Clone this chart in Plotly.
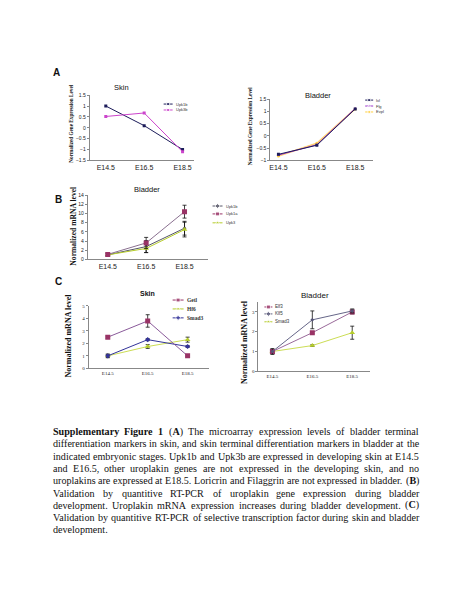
import re
import plotly.graph_objects as go

# page has the browser's default 8px body margin; draw in page pixel coordinates
OFF = 8
W, H = 450 - OFF, 600 - OFF
def X(p): return (p - OFF) / W
def Y(p): return 1 - (p - OFF) / H

# ---------------- data ----------------
stages = ["E14.5", "E16.5", "E18.5"]

# Panel A - skin (microarray)
a_skin_names = ["Upk1b", "Upk3b"]
a_skin_upk1b = [1.0, 0.1, -1.0]
a_skin_upk3b = [0.52, 0.68, -1.1]

# Panel A - bladder (microarray)
a_bl_names = ["Ivl", "Flg", "Evpl"]
a_bl_ivl = [-0.75, -0.38, 1.1]
a_bl_flg = [-0.78, -0.36, 1.12]
a_bl_evpl = [-0.82, -0.30, 1.10]

# Panel B - bladder RT-PCR
b_names = ["Upk1b", "Upk1a", "Upk3"]
b_upk1b = [1.0, 2.8, 6.8]
b_upk1b_err = [0.3, 1.3, 1.5]
b_upk1a = [1.1, 3.6, 10.4]
b_upk1a_err = [0.3, 1.2, 1.4]
b_upk3 = [1.0, 2.4, 6.5]
b_upk3_err = [0.2, 0.9, 1.6]

# Panel C - skin RT-PCR
c_skin_names = ["Getl", "Hf6", "Smad3"]
c_skin_getl = [2.5, 3.8, 1.0]
c_skin_getl_err = [0.08, 0.5, 0.08]
c_skin_hf6 = [1.0, 1.75, 2.3]
c_skin_hf6_err = [0.1, 0.15, 0.2]
c_skin_smad3 = [1.0, 2.3, 1.75]
c_skin_smad3_err = [0.15, 0.08, 0.08]

# Panel C - bladder RT-PCR
c_bl_names = ["Elf3", "Klf5", "Smad3"]
c_bl_elf3 = [1.0, 1.95, 3.0]
c_bl_elf3_err = [0.1, 0.05, 0.1]
c_bl_klf5 = [1.0, 2.6, 3.05]
c_bl_klf5_err = [0.15, 0.45, 0.1]
c_bl_smad3 = [1.0, 1.3, 1.95]
c_bl_smad3_err = [0.1, 0.04, 0.33]

caption_lines = [
    "<b>Supplementary</b> <b>Figure</b> <b>1</b> (<b>A</b>) The microarray expression levels of bladder terminal",
    "differentiation markers in skin, and skin terminal differentiation markers in bladder at the",
    "indicated embryonic stages. Upk1b and Upk3b are expressed in developing skin at E14.5",
    "and E16.5, other uroplakin genes are not expressed in the developing skin, and no",
    "uroplakins are expressed at E18.5. Loricrin and Filaggrin are not expressed in bladder. (<b>B</b>)",
    "Validation by quantitive RT-PCR of uroplakin gene expression during bladder",
    "development. Uroplakin mRNA expression increases during bladder development. (<b>C</b>)",
    "Validation by quantitive RT-PCR of selective transcription factor during skin and bladder",
    "development.",
]

# ---------------- styling ----------------
SANS = "Liberation Sans, Arial, sans-serif"
SERIF = "Liberation Serif, Times New Roman, serif"
NAVY = "#1c1c5a"
MAG = "#cc44cc"
PURP = "#9933cc"
YEL = "#ffd040"
GRAY = "#555566"
PLUM = "#993366"
LIME = "#b5cc2a"
BLUE = "#333399"

fig = go.Figure()

def add_series(xa, ya, y, name, color, symbol, msize, err=None, lcolor=None, lw=1):
    kw = {}
    if err is not None:
        kw["error_y"] = dict(type="data", array=err, visible=True, color="#111",
                             thickness=0.8, width=2)
    fig.add_trace(go.Scatter(
        x=stages, y=y, name=name, mode="lines+markers", xaxis=xa, yaxis=ya,
        line=dict(color=lcolor or color, width=lw),
        marker=dict(color=color, symbol=symbol, size=msize),
        showlegend=False, **kw))

# A skin
add_series("x", "y", a_skin_upk1b, a_skin_names[0], NAVY, "square", 3)
add_series("x", "y", a_skin_upk3b, a_skin_names[1], MAG, "square", 3)
# A bladder
add_series("x2", "y2", a_bl_evpl, a_bl_names[2], YEL, "circle", 3, lcolor="#ffcf70", lw=1.6)
add_series("x2", "y2", a_bl_flg, a_bl_names[1], PURP, "triangle-up", 3)
add_series("x2", "y2", a_bl_ivl, a_bl_names[0], NAVY, "square", 3)
# B
add_series("x3", "y3", b_upk1b, b_names[0], GRAY, "diamond", 3, b_upk1b_err)
add_series("x3", "y3", b_upk3, b_names[2], LIME, "triangle-up", 5, b_upk3_err)
add_series("x3", "y3", b_upk1a, b_names[1], PLUM, "square", 5, b_upk1a_err, lcolor="#8a7090")
# C skin
add_series("x4", "y4", c_skin_hf6, c_skin_names[1], LIME, "triangle-up", 5, c_skin_hf6_err, lcolor="#ccdd55")
add_series("x4", "y4", c_skin_smad3, c_skin_names[2], BLUE, "diamond", 4, c_skin_smad3_err)
add_series("x4", "y4", c_skin_getl, c_skin_names[0], PLUM, "square", 5, c_skin_getl_err, lcolor="#8a5a9a")
# C bladder
add_series("x5", "y5", c_bl_smad3, c_bl_names[2], LIME, "triangle-up", 5, c_bl_smad3_err, lcolor="#ccdd55")
add_series("x5", "y5", c_bl_elf3, c_bl_names[0], PLUM, "square", 5, c_bl_elf3_err, lcolor="#9a6a9a")
add_series("x5", "y5", c_bl_klf5, c_bl_names[1], "#555577", "diamond", 3, c_bl_klf5_err, lcolor="#666688")

# ---------------- axes ----------------
def xax(x0, x1, y_anchor, rng, fs, fam):
    return dict(domain=[X(x0), X(x1)], anchor=y_anchor, type="category", range=rng,
                showline=True, linecolor="#888", linewidth=1, ticks="",
                showgrid=False, zeroline=False, fixedrange=True,
                tickfont=dict(size=fs, family=fam, color="#222"))

def yax(ytop, ybot, x_anchor, rng, dtick, fs, fam):
    return dict(domain=[Y(ybot), Y(ytop)], anchor=x_anchor, range=rng, dtick=dtick,
                showline=True, linecolor="#888", linewidth=1, ticks="outside",
                ticklen=2, tickcolor="#888", showgrid=False, zeroline=False,
                fixedrange=True, tickfont=dict(size=fs, family=fam, color="#222"))

layout = dict(
    width=W, height=H, margin=dict(l=0, r=0, t=0, b=0),
    paper_bgcolor="white", plot_bgcolor="rgba(0,0,0,0)", showlegend=False,
    xaxis=xax(89, 193, "y", [-0.416, 2.287], 7, SANS),
    yaxis=yax(93, 159, "x", [-1.5, 1.5], 0.5, 5, SANS),
    xaxis2=xax(270, 373, "y2", [-0.209, 2.468], 7, SANS),
    yaxis2=yax(97, 159, "x2", [-1, 1.5], 0.5, 5, SANS),
    xaxis3=xax(87, 207, "y3", [-0.52, 2.60], 7, SANS),
    yaxis3=yax(194, 259, "x3", [0, 14], 2, 5, SANS),
    xaxis4=xax(88, 208, "y4", [-0.475, 2.525], 5, SERIF),
    yaxis4=yax(306, 369, "x4", [0, 5], 1, 5, SERIF),
    xaxis5=xax(258, 370, "y5", [-0.35, 2.45], 5, SERIF),
    yaxis5=yax(302, 372, "x5", [0, 3.5], 1, 5, SERIF),
    xaxis6=dict(domain=[0, 1], range=[OFF, OFF + W], visible=False, anchor="y6", fixedrange=True),
    yaxis6=dict(domain=[0, 1], range=[OFF + H, OFF], visible=False, anchor="x6", fixedrange=True),
)
fig.update_layout(**layout)

annotations = []
def ann(x, y, text, size, family=SANS, angle=0, xanchor="center", color="#111"):
    annotations.append(dict(x=X(x), y=Y(y), xref="paper", yref="paper", text=text,
                            showarrow=False, textangle=angle, xanchor=xanchor,
                            yanchor="middle", font=dict(size=size, family=family, color=color)))

# panel letters and titles
ann(56, 70, "<b>A</b>", 10)
ann(58, 198, "<b>B</b>", 10)
ann(58, 281, "<b>C</b>", 10)
ann(121, 85, "Skin", 7.5)
ann(318, 93, "Bladder", 7.5)
ann(146, 188, "Bladder", 7.5)
ann(147, 293, "<b>Skin</b>", 7)
ann(315, 295, "Bladder", 8)

# y-axis titles
ann(70, 122, "<b>Normalized Gene Expression Level</b>", 5.2, SERIF, -90)
ann(249, 124, "<b>Normalized Gene Expression Level</b>", 5.2, SERIF, -90)
ann(73, 225, "<b>Normalized mRNA level</b>", 7.6, SERIF, -90)
ann(68, 336, "<b>Normalized mRNA level</b>", 8, SERIF, -90)
ann(244, 342, "<b>Normalized mRNA level</b>", 8, SERIF, -90)

# ---------------- legends (drawn on a full-page overlay axis) ----------------
legend_specs = [
    (163, 172, [102, 108], a_skin_names, [NAVY, MAG], ["square", "square"], 3, 4, SANS),
    (365, 373, [98, 104, 110], a_bl_names, [NAVY, PURP, YEL], ["square", "triangle-up", "circle"], 3, 4, SANS),
    (212, 222, [205, 213, 222], b_names, [GRAY, PLUM, LIME], ["diamond", "square", "triangle-up"], 4, 4, SANS),
    (172, 183, [300, 309, 318], c_skin_names, [PLUM, LIME, BLUE], ["square", "triangle-up", "diamond"], 4, 5.5, SERIF),
    (264, 272, [307, 314, 322], c_bl_names, [PLUM, "#555577", LIME], ["square", "diamond", "triangle-up"], 4, 4.5, SANS),
]
for x0, x1, ys, names, colors, symbols, ms, fs, fam in legend_specs:
    for yy, nm, col, sym in zip(ys, names, colors, symbols):
        fig.add_trace(go.Scatter(
            x=[x0, (x0 + x1) / 2, x1], y=[yy, yy, yy], mode="lines+markers",
            xaxis="x6", yaxis="y6", showlegend=False, hoverinfo="skip",
            line=dict(color=col, width=1),
            marker=dict(color=col, symbol=sym, size=[0, ms, 0])))
        bold = "<b>%s</b>" % nm if fam == SERIF else nm
        ann(x1 + 1, yy, bold, fs, fam, xanchor="left", color="#333")

# ---------------- caption (justified) ----------------
REG = dict(zip("ABCDEFGHIJKLMNOPQRSTUVWXYZ",
               [722, 667, 667, 722, 611, 556, 722, 722, 333, 389, 722, 611, 889, 722, 722,
                556, 722, 667, 556, 611, 722, 722, 944, 722, 722, 611]))
REG.update(dict(zip("abcdefghijklmnopqrstuvwxyz",
                    [444, 500, 444, 500, 444, 333, 500, 500, 278, 278, 500, 278, 778, 500, 500,
                     500, 500, 333, 389, 278, 500, 500, 722, 500, 500, 444])))
REG.update({" ": 250, ".": 250, ",": 250, "(": 333, ")": 333, "-": 333})
REG.update({d: 500 for d in "0123456789"})
BOLD = dict(REG)
BOLD.update({"A": 722, "B": 667, "C": 722, "F": 611, "S": 556, "a": 500, "e": 444,
             "g": 500, "i": 278, "l": 278, "m": 833, "n": 556, "p": 556, "r": 444,
             "t": 333, "u": 556, "y": 500})

def text_w(s, size):
    w, bold = 0, False
    for part in re.split(r"(<b>|</b>)", s):
        if part == "<b>":
            bold = True
        elif part == "</b>":
            bold = False
        else:
            tbl = BOLD if bold else REG
            w += sum(tbl.get(ch, 500) for ch in part)
    return w / 1000.0 * size

CAP_FS = 10.1
CAP_X0, CAP_X1 = 51, 418
CAP_Y0, CAP_DY = 433, 12.4
for i, line in enumerate(caption_lines):
    words = line.split(" ")
    yy = CAP_Y0 + i * CAP_DY
    widths = [text_w(w, CAP_FS) for w in words]
    space = REG[" "] / 1000.0 * CAP_FS
    if i < len(caption_lines) - 1 and len(words) > 1:
        gap = (CAP_X1 - CAP_X0 - sum(widths)) / (len(words) - 1)
    else:
        gap = space
    xx = CAP_X0
    for w, wd in zip(words, widths):
        annotations.append(dict(x=X(xx), y=Y(yy), xref="paper", yref="paper", text=w,
                                showarrow=False, xanchor="left", yanchor="middle",
                                borderpad=0, font=dict(size=CAP_FS, family=SERIF, color="#111")))
        xx += wd + gap

fig.update_layout(annotations=annotations)
fig.write_html("out.html")
